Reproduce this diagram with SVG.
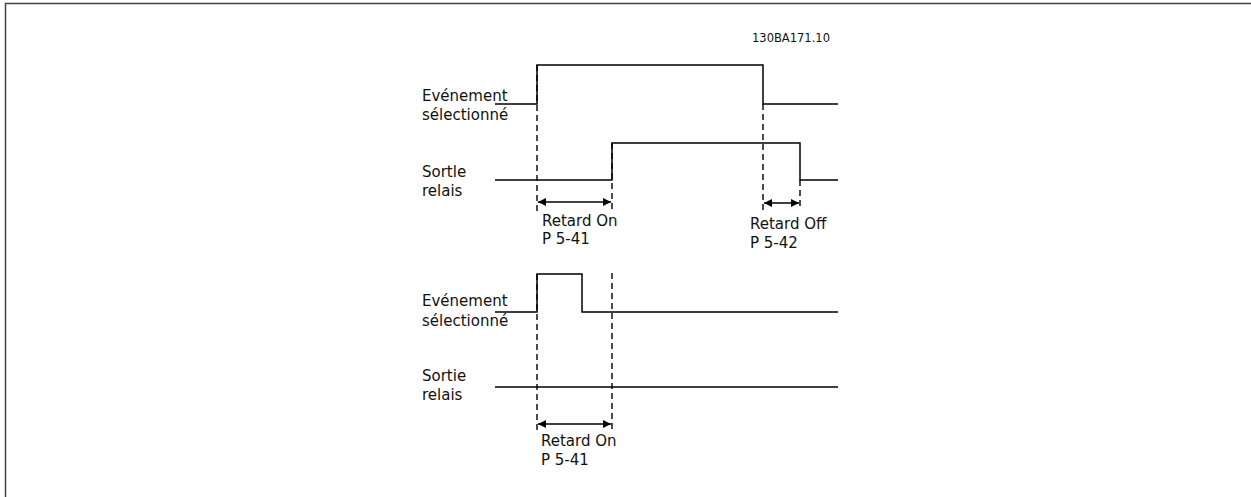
<svg xmlns="http://www.w3.org/2000/svg" width="1251" height="497" viewBox="0 0 1251 497">
<defs>
<marker id="ah" viewBox="0 0 10 10" refX="10" refY="5" markerWidth="12" markerHeight="8" markerUnits="userSpaceOnUse" orient="auto-start-reverse">
<path d="M0,0 L10,5 L0,10 z" fill="#000"/>
</marker>
</defs>
<style>
text{font-family:"DejaVu Sans","Verdana",sans-serif;font-size:15px;fill:#111}
.code{font-size:11.5px}
.sig{fill:none;stroke:#000;stroke-width:1.5}
.dash{fill:none;stroke:#000;stroke-width:1.4;stroke-dasharray:6,4}
.arr{stroke:#000;stroke-width:1.6;marker-start:url(#ah);marker-end:url(#ah)}
</style>
<rect width="1251" height="497" fill="#fff"/>
<path d="M5.5,497 V3.5 H1251" fill="none" stroke="#444" stroke-width="1.5"/>
<text class="code" x="752" y="42">130BA171.10</text>
<g id="top-event">
<text x="422" y="101">Evénement</text>
<text x="422" y="120">sélectionné</text>
<polyline class="sig" points="495,104 537,104 537,65 763,65 763,104 838,104"/>
</g>
<g id="top-relay">
<text x="422" y="177">Sortle</text>
<text x="422" y="196">relais</text>
<polyline class="sig" points="495,180 612,180 612,143 800,143 800,180 838,180"/>
</g>
<g id="bottom-event">
<text x="422" y="306">Evénement</text>
<text x="422" y="326">sélectionné</text>
<polyline class="sig" points="495,312 537,312 537,274 582,274 582,312 838,312"/>
</g>
<g id="bottom-relay">
<text x="422" y="381">Sortie</text>
<text x="422" y="400">relais</text>
<line class="sig" x1="495" y1="387" x2="838" y2="387"/>
</g>
<g id="connectors">
<line class="dash" x1="537" y1="65" x2="537" y2="212"/>
<line class="dash" x1="612" y1="143" x2="612" y2="210"/>
<line class="dash" x1="763" y1="104" x2="763" y2="212"/>
<line class="dash" x1="800" y1="180" x2="800" y2="210"/>
<line class="arr" x1="538" y1="202" x2="611" y2="202"/>
<line class="arr" x1="764" y1="203" x2="799" y2="203"/>
<line class="dash" x1="537" y1="274" x2="537" y2="432"/>
<line class="dash" x1="612" y1="273" x2="612" y2="432"/>
<line class="arr" x1="538" y1="424" x2="611" y2="424"/>
</g>
<g id="labels">
<text x="542" y="226">Retard On</text>
<text x="542" y="244">P 5-41</text>
<text x="750" y="229">Retard Off</text>
<text x="750" y="248">P 5-42</text>
<text x="541" y="446">Retard On</text>
<text x="541" y="465">P 5-41</text>
</g>
</svg>
